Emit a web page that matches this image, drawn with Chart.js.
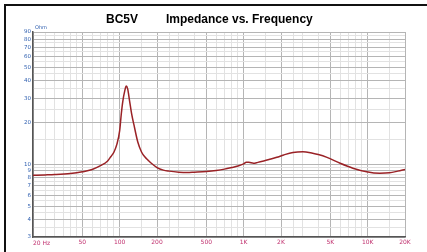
<!DOCTYPE html>
<html>
<head>
<meta charset="utf-8">
<script src="https://cdn.jsdelivr.net/npm/chart.js@4/dist/chart.umd.min.js"></script>
<style>
  html, body { margin: 0; padding: 0; background: #fff; overflow: hidden; }
  #imp { display: block; }
</style>
</head>
<body>
<canvas id="imp" width="427" height="252"></canvas>
<script>
// impedance curve
const freqs = [20, 25, 30, 40, 50, 60, 70, 80, 85, 90, 95, 100, 103, 106, 110, 113, 116, 120, 125, 130, 140, 150, 160, 170, 180, 200, 225, 250, 300, 350, 400, 500, 600, 700, 800, 900, 1000, 1050, 1100, 1200, 1300, 1450, 1600, 1850, 2100, 2500, 3000, 3600, 4000, 4700, 6000, 7600, 9800, 12500, 15000, 17500, 20000]
const ohms = [8.35, 8.4, 8.45, 8.6, 8.85, 9.2, 9.8, 10.6, 11.4, 12.3, 14.0, 17.5, 23, 28.5, 34, 36.7, 35, 29, 23, 19.5, 14.5, 12.3, 11.3, 10.7, 10.2, 9.5, 9.1, 8.95, 8.8, 8.75, 8.8, 8.9, 9.05, 9.25, 9.5, 9.75, 10.1, 10.35, 10.35, 10.2, 10.35, 10.6, 10.85, 11.25, 11.7, 12.2, 12.35, 12.05, 11.8, 11.25, 10.2, 9.4, 8.85, 8.63, 8.7, 8.95, 9.2]

// axis ticks
const xGrid = [20, 25, 30, 35, 40, 45, 50, 60, 70, 80, 90, 100, 150, 200, 250, 300, 400, 500, 600, 700, 800, 900, 1000, 1500, 2000, 2500, 3000, 4000, 5000, 6000, 7000, 8000, 9000, 10000, 15000, 20000]
const xLabels = {20: '20 Hz', 50: '50', 100: '100', 200: '200', 500: '500', 1000: '1K', 2000: '2K', 5000: '5K', 10000: '10K', 20000: '20K'}
const yGrid = [3, 3.5, 4, 4.5, 5, 5.5, 6, 6.5, 7, 7.5, 8, 8.5, 9, 9.5, 10, 15, 20, 25, 30, 35, 40, 45, 50, 55, 60, 65, 70, 75, 80, 85, 90]
const yLabels = [3, 4, 5, 6, 7, 8, 9, 10, 20, 30, 40, 50, 60, 70, 80, 90]

const frame = {
    id: 'frame',
    beforeDraw(chart) {
        const c = chart.ctx
        c.save()
        c.fillStyle = '#fff'
        c.fillRect(0, 0, chart.width, chart.height)
        c.fillStyle = '#111'
        c.fillRect(4, 4, chart.width - 4, 2)
        c.fillRect(4, 4, 2, chart.height - 4)
        c.restore()
    },
    afterDraw(chart) {
        const c = chart.ctx
        const xs = chart.scales.x
        c.save()
        c.fillStyle = '#000'
        c.font = 'bold 12px "Liberation Sans", Arial, sans-serif'
        c.textBaseline = 'alphabetic'
        c.textAlign = 'center'
        c.fillText('BC5V', 122, 23)
        c.textAlign = 'left'
        c.fillText('Impedance vs. Frequency', 166, 23)
        c.fillStyle = '#3060b0'
        c.font = '5px "DejaVu Sans", sans-serif'
        c.fillText('Ohm', 35, 29)
        // first x label sits to the right of its line
        c.fillStyle = '#c0306e'
        c.font = '6px "DejaVu Sans", sans-serif'
        c.textBaseline = 'top'
        c.fillText(xLabels[20], xs.getPixelForValue(20), xs.top + 3)
        c.restore()
    }
}

new Chart(document.getElementById('imp'), {
    type: 'line',
    data: {
        datasets: [{
            data: freqs.map((f, i) => ({x: f, y: ohms[i]})),
            borderColor: '#9a2226',
            borderWidth: 1.5,
            pointRadius: 0,
            cubicInterpolationMode: 'monotone',
            fill: false
        }]
    },
    options: {
        responsive: false,
        animation: false,
        layout: {padding: {left: 0, right: 22, top: 32, bottom: 0}},
        plugins: {legend: {display: false}, tooltip: {enabled: false}},
        scales: {
            x: {
                type: 'logarithmic',
                min: 20, max: 20000,
                afterBuildTicks: s => { s.ticks = xGrid.map(v => ({value: v})) },
                afterFit: s => { s.height = 15 },
                ticks: {
                    autoSkip: false, maxRotation: 0, padding: 2,
                    color: '#c0306e',
                    font: {size: 6, family: 'DejaVu Sans'},
                    callback: v => v === 20 ? '' : (xLabels[v] || '')
                },
                grid: {
                    color: ctx => xLabels[ctx.tick && ctx.tick.value] ? '#b5b5b5' : '#e2e2e2',
                    drawTicks: false
                },
                border: {color: '#555', width: 1.5}
            },
            y: {
                type: 'logarithmic',
                min: 3, max: 90,
                afterBuildTicks: s => { s.ticks = yGrid.map(v => ({value: v})) },
                afterFit: s => { s.width = 33 },
                ticks: {
                    autoSkip: false, padding: 2,
                    color: '#3060b0',
                    font: {size: 5.5, family: 'DejaVu Sans'},
                    callback: v => yLabels.includes(v) ? String(v) : ''
                },
                grid: {
                    color: ctx => yLabels.includes(ctx.tick && ctx.tick.value) ? '#b5b5b5' : '#e2e2e2',
                    drawTicks: false
                },
                border: {color: '#555', width: 1.5}
            }
        }
    },
    plugins: [frame]
})
</script>
</body>
</html>
